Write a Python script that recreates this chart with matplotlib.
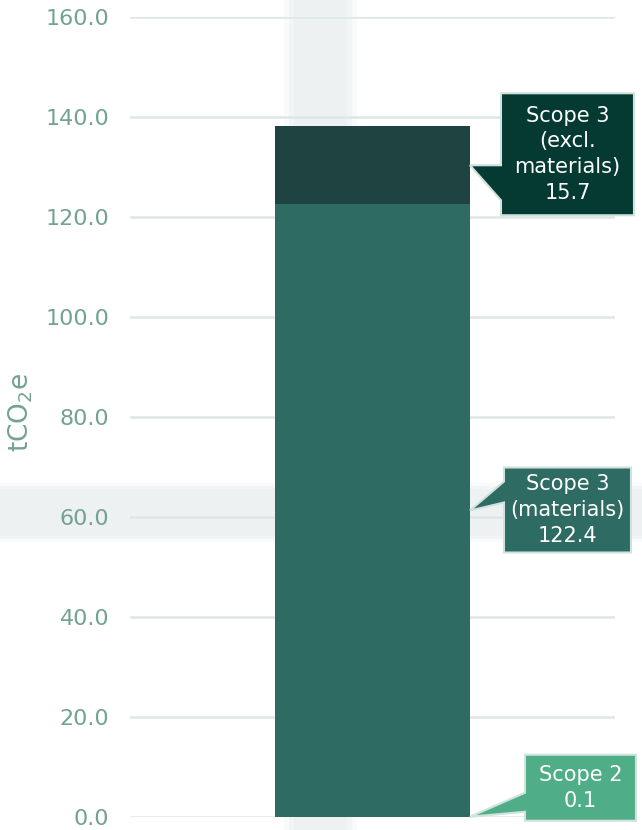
import matplotlib
matplotlib.use("Agg")
import matplotlib.pyplot as plt
from matplotlib.patches import Polygon, Rectangle
from matplotlib.transforms import IdentityTransform

# ---- data ----
categories = ["Total"]
series_names = ["Scope 2", "Scope 3 (materials)", "Scope 3 (excl. materials)"]
series_values = [0.1, 122.4, 15.7]
callout_labels = ["Scope 2\n0.1", "Scope 3\n(materials)\n122.4", "Scope 3\n(excl.\nmaterials)\n15.7"]
yticks = [0, 20, 40, 60, 80, 100, 120, 140, 160]
ytick_labels = ["0.0", "20.0", "40.0", "60.0", "80.0", "100.0", "120.0", "140.0", "160.0"]
ylabel = "tCO$_2$e"

# ---- style ----
bar_colors = ["#4fae88", "#2e6b63", "#1e4340"]
callout_colors = ["#4fae88", "#2e6b63", "#053a33"]
# callout geometry (pixels relative to pointer tip): dx to box, box top, box bottom, base1, base2, width
callout_geom = [
    (55, 62, -4, 24, 5, 111),
    (34, 43, -42, 29, 8, 127),
    (31, 72, -50, 0, -35, 133),
]
tick_color = "#72a292"
grid_color = "#dde8e5"

W, H = 642, 830
fig = plt.figure(figsize=(W / 100, H / 100), dpi=100)
fig.patch.set_facecolor("white")

# crosshair bands (hover artefacts), behind everything
band = "#edf1f2"
for (x0, x1, a) in [(284, 357, 0.3), (289, 352, 0.5), (294, 347, 0.9)]:
    fig.patches.append(Rectangle((x0 / W, 0), (x1 - x0) / W, 1, transform=fig.transFigure,
                                 facecolor=band, alpha=a, edgecolor="none", zorder=-2))
for (y0, y1, a) in [(483, 542, 0.3), (486, 539, 0.5), (489, 536, 0.9)]:
    fig.patches.append(Rectangle((0, 1 - y1 / H), 1, (y1 - y0) / H, transform=fig.transFigure,
                                 facecolor=band, alpha=a, edgecolor="none", zorder=-2))

ax = fig.add_axes([130 / W, 13 / H, 485 / W, 800 / H])
ax.set_facecolor("none")
ax.set_xlim(-0.5, 0.5)
ax.set_ylim(0, 160)

bottom = 0.0
mids = []
for val, col in zip(series_values, bar_colors):
    ax.bar(0, val, width=0.402, bottom=bottom, color=col, edgecolor="none", zorder=3)
    mids.append(bottom + val / 2)
    bottom += val

ax.set_xticks([])
ax.set_yticks(yticks)
ax.set_yticklabels(ytick_labels, fontsize=16, color=tick_color)
ax.tick_params(axis="y", length=0, pad=15)
ax.yaxis.grid(True, color=grid_color, linewidth=1.8, zorder=1)
ax.set_axisbelow(True)
for s in ax.spines.values():
    s.set_visible(False)
ax.set_ylabel(ylabel, fontsize=19, color=tick_color)
ax.yaxis.set_label_coords(-0.195, 0.506)

# callouts
fig.canvas.draw()
bar_right = 0.201
for lab, mid, col, geom in zip(callout_labels, mids, callout_colors, callout_geom):
    tx, ty = ax.transData.transform((bar_right, mid))
    dx, top, bot, b1, b2, bw = geom
    bx0 = tx + dx
    bx1 = bx0 + bw
    yt = ty + top
    yb = ty + bot
    pts = [(bx0, yt), (bx1, yt), (bx1, yb), (bx0, yb), (bx0, ty + b2), (tx, ty), (bx0, ty + b1)]
    poly = Polygon(pts, closed=True, facecolor=col, edgecolor="#cfe2dc", linewidth=1.5,
                   transform=IdentityTransform(), zorder=5)
    fig.patches.append(poly)
    fig.text((bx0 + bx1) / 2 / W, (yt + yb) / 2 / H, lab, ha="center", va="center",
             fontsize=15, color="white", linespacing=1.35, zorder=6)

fig.savefig("out.png", dpi=100)
